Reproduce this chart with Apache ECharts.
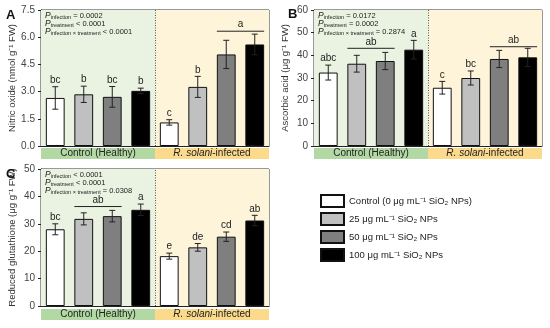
<!DOCTYPE html>
<html><head><meta charset="utf-8">
<script src="https://cdn.jsdelivr.net/npm/echarts@6/dist/echarts.min.js"></script>
<style>html,body{margin:0;padding:0;background:#fff}#c{width:550px;height:328px}</style>
</head><body><div id="c"></div>
<script>
const doses = ['Control (0 μg mL⁻¹ SiO₂ NPs)', '25 μg mL⁻¹ SiO₂ NPs', '50 μg mL⁻¹ SiO₂ NPs', '100 μg mL⁻¹ SiO₂ NPs'];
const groups = ['Control (Healthy)', 'R. solani-infected'];
const bars = ['C0','C25','C50','C100','I0','I25','I50','I100'];

const noMean = [2.65, 2.85, 2.71, 3.04, 1.30, 3.26, 5.05, 5.60];
const noErr = [0.62, 0.45, 0.57, 0.15, 0.15, 0.58, 0.78, 0.57];
const noLetters = ['bc', 'b', 'bc', 'b', 'c', 'b', '', ''];
const noSpans = [[6, 7, 6.33]];
const noSpanLetters = ['a'];
const noP = ['= 0.0002', '< 0.0001', '< 0.0001'];

const aaMean = [32.4, 36.3, 37.5, 42.5, 25.7, 30.0, 38.4, 39.1];
const aaErr = [3.3, 3.7, 3.8, 4.1, 2.8, 3.1, 3.8, 4.0];
const aaLetters = ['abc', '', '', 'a', 'c', 'bc', '', ''];
const aaSpans = [[1, 2, 43.1], [6, 7, 43.8]];
const aaSpanLetters = ['ab', 'ab'];
const aaP = ['= 0.0172', '= 0.0002', '= 0.2874'];

const gshMean = [28.0, 31.8, 32.8, 35.1, 18.2, 21.4, 25.3, 31.2];
const gshErr = [2.0, 2.2, 2.1, 2.1, 1.1, 1.4, 1.7, 1.9];
const gshLetters = ['bc', '', '', 'a', 'e', 'de', 'cd', 'ab'];
const gshSpans = [[1, 2, 36.3]];
const gshSpanLetters = ['ab'];
const gshP = ['< 0.0001', '< 0.0001', '= 0.0308'];

const FONT = '"Liberation Sans", Arial, sans-serif';
const barColors = ['#ffffff', '#c0c0c0', '#7f7f7f', '#000000'];
const bgColors = ['#eaf3e2', '#fdf4da'];
const bandColors = ['#b2d8a4', '#fcda8c'];

const panels = [
  {label: 'A', labelPos: [6, 9], mean: noMean, err: noErr, letters: noLetters, spans: noSpans, spanLetters: noSpanLetters, p: noP,
   name: 'Nitric oxide (nmol g⁻¹ FW)', min: 0, max: 7.5, interval: 1.5, dec: 1,
   grid: {left: 41, top: 10, width: 228, height: 136}, band: {left: 41, top: 148, width: 228, height: 11}},
  {label: 'B', labelPos: [288, 8], mean: aaMean, err: aaErr, letters: aaLetters, spans: aaSpans, spanLetters: aaSpanLetters, p: aaP,
   name: 'Ascorbic acid (μg g⁻¹ FW)', min: 0, max: 60, interval: 10, dec: 0,
   grid: {left: 314, top: 10, width: 228, height: 136}, band: {left: 314, top: 148, width: 228, height: 11}},
  {label: 'C', labelPos: [6, 168], mean: gshMean, err: gshErr, letters: gshLetters, spans: gshSpans, spanLetters: gshSpanLetters, p: gshP,
   name: 'Reduced glutathione (μg g⁻¹ FW)', min: 0, max: 50, interval: 10, dec: 0,
   grid: {left: 41, top: 169, width: 228, height: 137}, band: {left: 41, top: 309, width: 228, height: 11}}
];

const grid = [], xAxis = [], yAxis = [], series = [], title = [];
panels.forEach((pn, p) => {
  grid.push(Object.assign({show: true, borderColor: '#333', borderWidth: 1, backgroundColor: 'transparent'}, pn.grid));
  xAxis.push({type: 'category', gridIndex: p, data: bars, axisLine: {lineStyle: {color: '#222'}}, axisTick: {show: false}, axisLabel: {show: false}});
  xAxis.push({type: 'value', gridIndex: p, min: 0, max: 2, show: false});
  yAxis.push({type: 'value', gridIndex: p, min: pn.min, max: pn.max, interval: pn.interval,
    axisLine: {show: true, lineStyle: {color: '#222'}}, axisTick: {show: true, length: 3, lineStyle: {color: '#222'}},
    splitLine: {show: false},
    axisLabel: {fontFamily: FONT, fontSize: 10, color: '#444', margin: 6, formatter: v => v.toFixed(pn.dec)},
    name: pn.name, nameLocation: 'middle', nameGap: 24,
    nameTextStyle: {fontFamily: FONT, fontSize: 9.5, color: '#333'}});
});
panels.forEach((pn, p) => {
  grid.push(Object.assign({}, pn.band));
  xAxis.push({type: 'category', gridIndex: 3 + p, data: groups, show: false});
  yAxis.push({type: 'value', gridIndex: 3 + p, min: 0, max: 1, show: false});
});

panels.forEach((pn, p) => {
  const xc = 2 * p, xv = 2 * p + 1;
  series.push({type: 'line', xAxisIndex: xv, yAxisIndex: p, data: [[0, pn.min]], showSymbol: false, silent: true, z: -1,
    lineStyle: {opacity: 0},
    markArea: {silent: true, data: [
      [{xAxis: 0, itemStyle: {color: bgColors[0]}}, {xAxis: 1}],
      [{xAxis: 1, itemStyle: {color: bgColors[1]}}, {xAxis: 2}]
    ]}});
  series.push({type: 'line', xAxisIndex: xv, yAxisIndex: p, data: [[0, pn.min]], showSymbol: false, silent: true, z: 1,
    lineStyle: {opacity: 0},
    markLine: {silent: true, symbol: ['none', 'none'], label: {show: false},
      lineStyle: {type: [1, 1.5], color: '#555', width: 1}, data: [{xAxis: 1}]}});
  doses.forEach((d, k) => {
    series.push({type: 'bar', name: d, xAxisIndex: xc, yAxisIndex: p, barWidth: '66%', barGap: '-100%',
      itemStyle: {color: barColors[k], borderColor: '#111', borderWidth: 1},
      data: pn.mean.map((v, i) => (i % 4 === k ? v : '-')), z: 2});
  });
  series.push({type: 'custom', xAxisIndex: xc, yAxisIndex: p, z: 4, silent: true, clip: false,
    data: pn.mean.map((m, i) => [i, m, pn.err[i]]),
    encode: {x: 0, y: 1},
    renderItem: function (params, api) {
      const i = api.value(0), m = api.value(1), e = api.value(2);
      const t = api.coord([i, m + e]), b = api.coord([i, m - e]);
      const c = 3;
      const st = {stroke: '#222', lineWidth: 1};
      const ch = [
        {type: 'line', shape: {x1: t[0], y1: t[1], x2: b[0], y2: b[1]}, style: st},
        {type: 'line', shape: {x1: t[0] - c, y1: t[1], x2: t[0] + c, y2: t[1]}, style: st},
        {type: 'line', shape: {x1: b[0] - c, y1: b[1], x2: b[0] + c, y2: b[1]}, style: st}
      ];
      const L = pn.letters[params.dataIndex];
      if (L) ch.push({type: 'text', style: {text: L, x: t[0], y: t[1] - 1.5, textAlign: 'center', textVerticalAlign: 'bottom',
        font: '10px ' + FONT, fill: '#222'}});
      return {type: 'group', children: ch};
    }});
  series.push({type: 'custom', xAxisIndex: xc, yAxisIndex: p, z: 4, silent: true, clip: false,
    data: pn.spans.map(s => s.slice()),
    encode: {x: [0, 1], y: 2},
    renderItem: function (params, api) {
      const a = api.value(0), b = api.value(1), y = api.value(2);
      const bw = api.size([1, 0])[0];
      const pa = api.coord([a, y]), pb = api.coord([b, y]);
      const x1 = pa[0] - bw * 0.33, x2 = pb[0] + bw * 0.33;
      return {type: 'group', children: [
        {type: 'line', shape: {x1: x1, y1: pa[1], x2: x2, y2: pa[1]}, style: {stroke: '#222', lineWidth: 1}},
        {type: 'text', style: {text: pn.spanLetters[params.dataIndex], x: (x1 + x2) / 2, y: pa[1] - 1.5,
          textAlign: 'center', textVerticalAlign: 'bottom', font: '10px ' + FONT, fill: '#222'}}
      ]};
    }});
  series.push({type: 'bar', xAxisIndex: 6 + p, yAxisIndex: 3 + p, barWidth: '100%', silent: true,
    data: groups.map((g, i) => ({value: 1, itemStyle: {color: bandColors[i]}})),
    label: {show: true, position: 'inside', fontFamily: FONT, fontSize: 10, color: '#222',
      formatter: prm => {
        const g = groups[prm.dataIndex];
        const m = g.match(/^(R\. solani)(.*)$/);
        return m ? '{i|' + m[1] + '}{n|' + m[2] + '}' : '{n|' + g + '}';
      },
      rich: {i: {fontFamily: FONT, fontSize: 10, fontStyle: 'italic', color: '#222'}, n: {fontFamily: FONT, fontSize: 10, color: '#222'}}}});

  title.push({text: pn.label, left: pn.labelPos[0], top: pn.labelPos[1], padding: 0,
    textStyle: {fontFamily: FONT, fontSize: 13, fontWeight: 'bold', color: '#111'}});
  const subs = ['infection', 'treatment', 'infection × treatment'];
  subs.forEach((s, j) => {
    title.push({text: '{p|P}{s|' + s + '}{v| ' + pn.p[j] + '}',
      left: pn.grid.left + 4, top: pn.grid.top + 1 + j * 8, padding: 0,
      textStyle: {fontFamily: FONT, fontSize: 8, fontWeight: 'normal', color: '#222',
        rich: {p: {fontFamily: FONT, fontSize: 8.5, fontStyle: 'italic', fontWeight: 'normal', color: '#222', verticalAlign: 'bottom', lineHeight: 9},
               s: {fontFamily: FONT, fontSize: 5.5, fontWeight: 'normal', color: '#222', verticalAlign: 'bottom', lineHeight: 6},
               v: {fontFamily: FONT, fontSize: 7.5, fontWeight: 'normal', color: '#222', verticalAlign: 'bottom', lineHeight: 9}}}});
  });
});

const chart = echarts.init(document.getElementById('c'), null, {renderer: 'canvas'});
chart.setOption({
  animation: false,
  title: title,
  grid: grid, xAxis: xAxis, yAxis: yAxis, series: series,
  legend: {data: doses, orient: 'vertical', left: 315, top: 189, itemWidth: 23, itemHeight: 12, itemGap: 4, icon: 'rect',
    selectedMode: false, textStyle: {fontFamily: FONT, fontSize: 9.5, color: '#222'}}
});
</script></body></html>
